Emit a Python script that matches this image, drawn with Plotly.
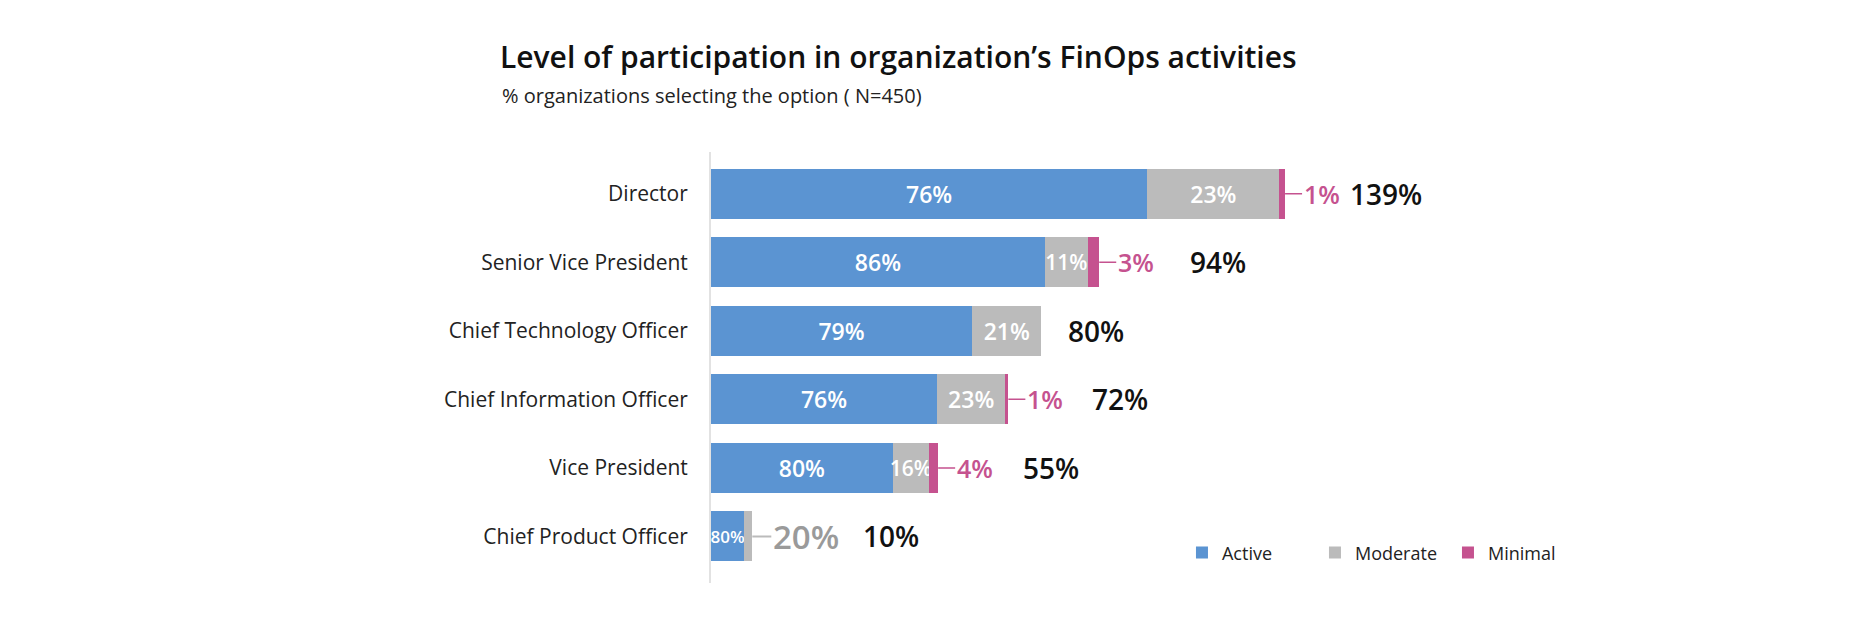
import plotly.graph_objects as go

# ---- data ----
categories = ["Director", "Senior Vice President", "Chief Technology Officer",
              "Chief Information Officer", "Vice President", "Chief Product Officer"]
totals = [139, 94, 80, 72, 55, 10]          # bar length (% organizations)
active = [76, 86, 79, 76, 80, 80]           # share of bar (%)
moderate = [23, 11, 21, 23, 16, 20]
minimal = [1, 3, 0, 1, 4, 0]
series_names = ["Active", "Moderate", "Minimal"]

# ---- styles ----
C_ACTIVE = "#5B94D2"
C_MOD = "#BBBBBB"
C_MIN = "#C5528F"
FONT = "Open Sans"
W, H = 1859, 629                             # page has an 8px body margin
total_shift = [63, 89, 25, 82, 83, 109]     # px gap from bar end to total label
act_font = [23, 23, 23, 23, 23, 17]
mod_font = [23, 21, 23, 23, 21, 23]

def seg(tot, share):
    return [t * s / 100 for t, s in zip(tot, share)]

act_len = seg(totals, active)
mod_len = seg(totals, moderate)
min_len = seg(totals, minimal)

mod_inside = [m >= 5 for m in mod_len]

fig = go.Figure()
fig.add_bar(y=categories, x=act_len, orientation="h", name=series_names[0],
            marker=dict(color=C_ACTIVE, line=dict(width=0)),
            text=[f"{v}%" for v in active], textposition="inside",
            insidetextanchor="middle", textangle=0, constraintext="none",
            textfont=dict(color="white", size=act_font, family=FONT, weight=600),
            hoverinfo="skip")
fig.add_bar(y=categories, x=mod_len, orientation="h", name=series_names[1],
            marker=dict(color=C_MOD, line=dict(width=0)),
            text=[f"{v}%" if ok else "" for v, ok in zip(moderate, mod_inside)],
            textposition="inside", insidetextanchor="middle", textangle=0,
            constraintext="none",
            textfont=dict(color="white", size=mod_font, family=FONT, weight=600),
            hoverinfo="skip")
fig.add_bar(y=categories, x=min_len, orientation="h", name=series_names[2],
            marker=dict(color=C_MIN, line=dict(width=0)),
            hoverinfo="skip")

annotations = []
for i, cat in enumerate(categories):
    # outside labels (minimal, or moderate if too small)
    if minimal[i] > 0:
        annotations.append(dict(x=totals[i], y=cat, xref="x", yref="y",
                                text=f"{minimal[i]}%", showarrow=True, arrowhead=0,
                                arrowwidth=1.5, arrowcolor=C_MIN, ax=17, ay=0,
                                xanchor="left", standoff=0,
                                font=dict(color=C_MIN, size=25, family=FONT, weight=600)))
    elif not mod_inside[i]:
        annotations.append(dict(x=totals[i], y=cat, xref="x", yref="y",
                                text=f"{moderate[i]}%", showarrow=True, arrowhead=0,
                                arrowwidth=2, arrowcolor=C_MOD, ax=19, ay=0,
                                xanchor="left", standoff=0,
                                font=dict(color="#9A9A9A", size=33, family=FONT, weight=600)))
    # totals
    annotations.append(dict(x=totals[i], y=cat, xref="x", yref="y",
                            text=f"{totals[i]}%", showarrow=False, xanchor="left",
                            xshift=total_shift[i],
                            font=dict(color="#111111", size=28, family=FONT, weight=600)))

# subtitle
annotations.append(dict(xref="paper", yref="paper", x=(492 - 703) / 1056, y=1.132,
                        xanchor="left", yanchor="middle", showarrow=False,
                        text="% organizations selecting the option ( N=450)",
                        font=dict(color="#222222", size=20, family=FONT)))

fig.update_layout(
    width=W, height=H,
    barmode="stack", bargap=0.27,
    plot_bgcolor="white", paper_bgcolor="white",
    margin=dict(l=703, r=100, t=144, b=54),
    title=dict(text="Level of participation in organization’s FinOps activities",
               x=492 / W, xanchor="left", xref="container",
               y=1 - 49 / H, yanchor="middle", yref="container",
               font=dict(size=30, color="#111111", family=FONT, weight=600)),
    xaxis=dict(range=[0, 1056 / 4.13], visible=False, fixedrange=True),
    yaxis=dict(categoryorder="array", categoryarray=categories,
               range=[5.68, -0.61], showline=True, linecolor="#E2E2E2", linewidth=2,
               showgrid=False, zeroline=False, ticks="", ticklabelstandoff=17,
               tickfont=dict(size=21, color="#222222", family=FONT)),
    legend=dict(orientation="h", x=0.446, y=0.07, xanchor="left", yanchor="middle",
                font=dict(size=18, color="#222222", family=FONT),
                entrywidth=88, entrywidthmode="pixels",
                traceorder="normal", bgcolor="rgba(0,0,0,0)"),
    annotations=annotations,
    showlegend=True,
)

fig.write_html("out.html")
